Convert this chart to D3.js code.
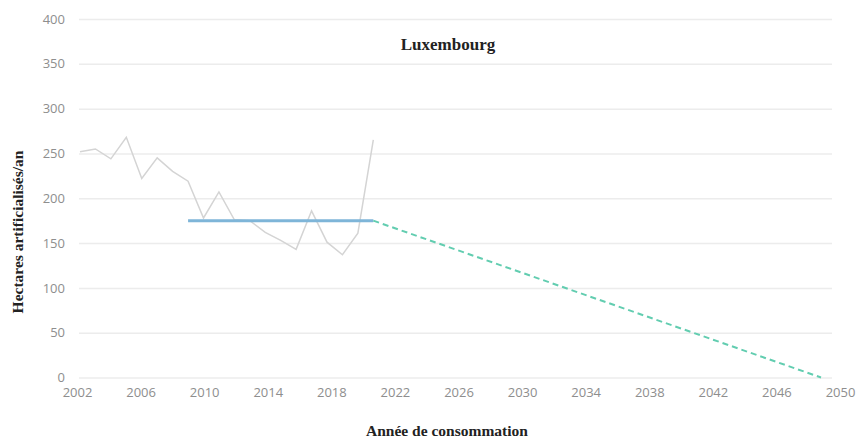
<!DOCTYPE html>
<html>
<head>
<meta charset="utf-8">
<script src="https://cdn.jsdelivr.net/npm/d3@7"></script>
<style>
  body { margin: 0; background: #fff; }
  .tick text { font-family: "Open Sans", sans-serif; font-size: 13px; fill: #8e8e8e; }
  .ttl { font-family: "Liberation Serif", "DejaVu Serif", serif; font-weight: bold; fill: #222; }
</style>
</head>
<body>
<div id="chart"></div>
<script>
// historic consumption (ha/an), 2002 -> 2021
const years = d3.range(2002, 2022);
const conso = [252, 255, 244, 268, 222, 245, 230, 219, 178, 207,
               176, 175, 162, 153, 143, 186, 151, 137, 161, 265];

// reference average 2009-2021
const avgYears = [2009, 2021];
const avgValues = [175, 175];

// trajectory to zero net artificialisation
const trajYears = [2021, 2050];
const trajValues = [175, 0];

const xTicks = d3.range(2002, 2051, 4);
const yTicks = [0, 50, 100, 150, 200, 250, 300, 350, 400];

const svgWidth = 859;
const svgHeight = 441;

const svg = d3.select("#chart")
    .append("svg")
    .attr("width", svgWidth)
    .attr("height", svgHeight);

const x = d3.scaleLinear().domain([2002, 2050]).range([80, 821]);
const xLabel = d3.scaleLinear().domain([2002, 2050]).range([77, 840]);
const y = d3.scaleLinear().domain([0, 400]).range([377.5, 19]);

// gridlines + y labels
const yAxis = svg.append("g")
    .attr("transform", "translate(79,0)")
    .call(d3.axisLeft(y).tickValues(yTicks).tickSize(-753).tickPadding(14));
yAxis.select(".domain").remove();
yAxis.selectAll(".tick line").attr("stroke", "#ececec").attr("stroke-width", 1.5);

// x labels
const xAxis = svg.append("g")
    .attr("transform", "translate(0,384)")
    .call(d3.axisBottom(xLabel).tickValues(xTicks).tickFormat(d3.format("d")).tickSize(0).tickPadding(4));
xAxis.select(".domain").remove();

const line = d3.line().x(d => x(d[0])).y(d => y(d[1]));

svg.append("path")
    .datum(years.map((yr, i) => [yr, conso[i]]))
    .attr("fill", "none")
    .attr("stroke", "#d4d4d4")
    .attr("stroke-width", 1.5)
    .attr("d", line);

svg.append("path")
    .datum(avgYears.map((yr, i) => [yr, avgValues[i]]))
    .attr("fill", "none")
    .attr("stroke", "#7eb5d8")
    .attr("stroke-width", 3)
    .attr("d", line);

svg.append("path")
    .datum(trajYears.map((yr, i) => [yr, trajValues[i]]))
    .attr("fill", "none")
    .attr("stroke", "#62cdb0")
    .attr("stroke-width", 2)
    .attr("stroke-dasharray", "6,4")
    .attr("d", line);

svg.append("text")
    .attr("class", "ttl")
    .attr("x", 448)
    .attr("y", 50)
    .attr("text-anchor", "middle")
    .style("font-size", "17px")
    .text("Luxembourg");

svg.append("text")
    .attr("class", "ttl")
    .attr("x", 447)
    .attr("y", 436)
    .attr("text-anchor", "middle")
    .style("font-size", "15.5px")
    .text("Année de consommation");

svg.append("text")
    .attr("class", "ttl")
    .attr("transform", "translate(23,232) rotate(-90)")
    .attr("text-anchor", "middle")
    .style("font-size", "15.5px")
    .text("Hectares artificialisés/an");
</script>
</body>
</html>
